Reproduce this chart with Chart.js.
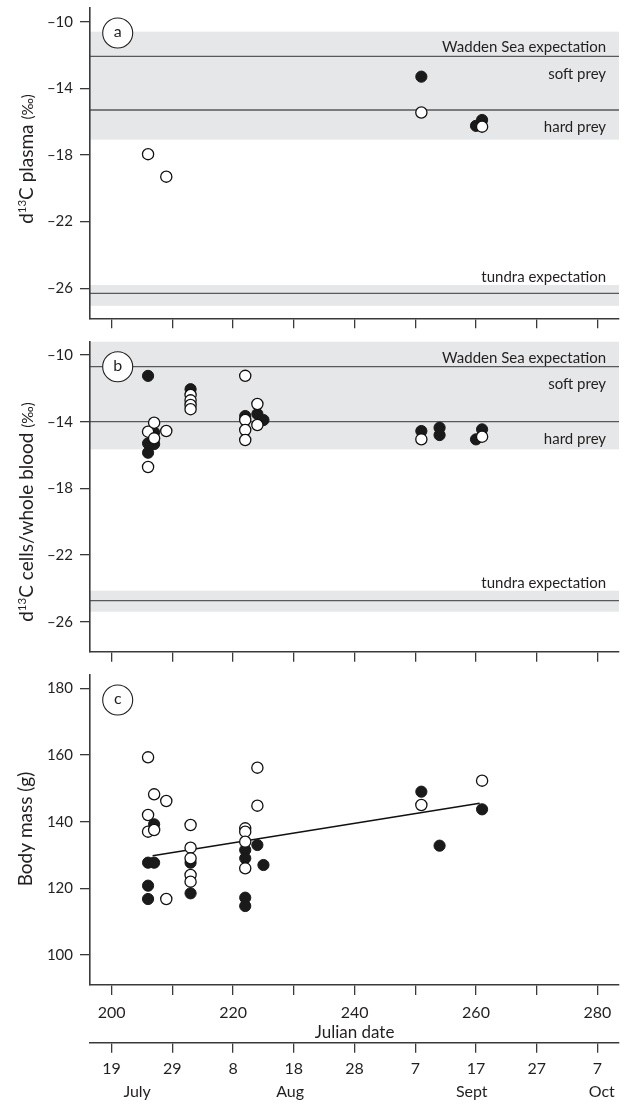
<!DOCTYPE html>
<html>
<head>
<meta charset="utf-8">
<script src="https://cdn.jsdelivr.net/npm/chart.js@4.4.0/dist/chart.umd.min.js"></script>
<style>
  body { margin: 0; background: #fff; }
  #wrap { position: relative; width: 626px; height: 1105px; }
  canvas { position: absolute; left: 0; }
</style>
</head>
<body>
<div id="wrap">
  <canvas id="grafA" width="626" height="330" style="top:0"></canvas>
  <canvas id="grafB" width="626" height="332" style="top:330px"></canvas>
  <canvas id="grafC" width="626" height="443" style="top:662px"></canvas>
</div>
<script>
// ----- shared x axis (julian date + calendar date)
const xMin = 196.44, xMax = 283.56;
const julianTicks = [200, 210, 220, 230, 240, 250, 260, 270, 280];
const julianLabels = ["200", "", "220", "", "240", "", "260", "", "280"];
const dayLabels = ["19", "29", "8", "18", "28", "7", "17", "27", "7"];
const monthPos = [204.2, 229.4, 259.3, 280.7];
const monthLabels = ["July", "Aug", "Sept", "Oct"];

// ----- panel a: d13C plasma
const isoTicks = [-10, -14, -18, -22, -26];
const isoTickLabels = ["–10", "–14", "–18", "–22", "–26"];
const plasmaFilledDay = [251, 261, 260];
const plasmaFilledVal = [-13.3, -15.9, -16.25];
const plasmaOpenDay = [206, 209, 251, 261];
const plasmaOpenVal = [-17.95, -19.3, -15.45, -16.3];
const plasmaBands = [[-10.6, -17.08], [-25.8, -27.05]];
const plasmaLines = [-12.08, -15.3, -26.3]; // wadden, soft/hard, tundra

// ----- panel b: d13C cells / whole blood
const bloodFilledDay = [206, 206, 206, 207, 207, 213, 222, 224, 225, 251, 254, 254, 261, 260];
const bloodFilledVal = [-11.25, -15.3, -15.86, -14.64, -15.34, -12.05, -13.66, -13.54, -13.9, -14.56, -14.36, -14.8, -14.46, -15.06];
const bloodOpenDay = [206, 206, 207, 207, 209, 213, 213, 213, 213, 222, 222, 222, 222, 224, 224, 251, 261];
const bloodOpenVal = [-14.6, -16.72, -14.06, -15.0, -14.56, -12.4, -12.72, -13.0, -13.25, -11.25, -13.9, -14.5, -15.1, -12.94, -14.2, -15.06, -14.9];
const bloodBands = [[-9.0, -15.66], [-24.14, -25.4]];
const bloodLines = [-10.7, -14.0, -24.74];

// ----- panel c: body mass
const massTicks = [100, 120, 140, 160, 180];
const massTickLabels = ["100", "120", "140", "160", "180"];
const massFilledDay = [206, 206, 206, 207, 207, 213, 213, 222, 222, 222, 222, 224, 225, 251, 254, 261];
const massFilledVal = [127.7, 120.8, 116.8, 139.2, 127.7, 127.7, 118.5, 131.5, 129, 117.2, 114.7, 133, 127, 149, 132.8, 143.7];
const massOpenDay = [206, 206, 206, 207, 207, 209, 209, 213, 213, 213, 213, 213, 222, 222, 222, 222, 224, 224, 251, 261];
const massOpenVal = [159.3, 142, 137, 148.2, 137.5, 146.2, 116.8, 139, 132.2, 129, 124, 122, 138, 137, 134, 126, 156.2, 144.8, 145, 152.3];
const trendDay = [206.75, 260.6];
const trendMass = [129.8, 145.5];

const FONT = "Lato, 'Open Sans', sans-serif";
const INK = "#231f20";
const AXIS = "#3a3a3a";
Chart.defaults.font.family = FONT;
Chart.defaults.color = INK;

function pts(xs, ys) {
  return xs.map((x, i) => ({ x: x, y: ys[i] }));
}

function fixTicks(values) {
  return (s) => { s.ticks = values.map((v) => ({ value: v })); };
}

function noPad(s) {
  s.paddingTop = 0; s.paddingBottom = 0; s.paddingLeft = 0; s.paddingRight = 0;
}

function openSet(data) {
  return {
    data: data, pointRadius: 5.6, pointHoverRadius: 5.6, pointBorderWidth: 1.3,
    pointBackgroundColor: "#ffffff", pointBorderColor: "#111111", showLine: false
  };
}
function filledSet(data) {
  return {
    data: data, pointRadius: 5.6, pointHoverRadius: 5.6, pointBorderWidth: 1,
    pointBackgroundColor: "#1a1a1a", pointBorderColor: "#1a1a1a", showLine: false
  };
}

function yAxis(min, max, ticks, labels) {
  return {
    type: "linear", min: min, max: max,
    afterBuildTicks: fixTicks(ticks),
    afterFit: (s) => { s.width = 90; noPad(s); },
    ticks: { callback: (v, i) => labels[i], font: { size: 15 }, padding: 7, color: INK },
    grid: { drawOnChartArea: false, drawTicks: true, tickLength: 10, color: AXIS, lineWidth: 1.3 },
    border: { display: true, color: AXIS, width: 1.6 }
  };
}

function xTicksOnly(h) {
  return {
    type: "linear", position: "bottom", min: xMin, max: xMax,
    afterBuildTicks: fixTicks(julianTicks),
    afterFit: (s) => { s.height = h; noPad(s); },
    ticks: { display: false },
    grid: { drawOnChartArea: false, drawTicks: true, tickLength: 10, color: AXIS, lineWidth: 1.3 },
    border: { display: true, color: AXIS, width: 1.6 }
  };
}

// bands, reference lines, their labels, panel letter and the y title
function panelPlugin(cfg) {
  return {
    id: "panel" + cfg.letter,
    beforeDraw(chart) {
      const { ctx, chartArea: a, scales: { y } } = chart;
      if (!cfg.bands) return;
      ctx.save();
      ctx.beginPath();
      ctx.rect(a.left, a.top, a.right - a.left, a.bottom - a.top);
      ctx.clip();
      ctx.fillStyle = "#e6e7e8";
      cfg.bands.forEach(([hi, lo]) => {
        const y1 = y.getPixelForValue(hi), y2 = y.getPixelForValue(lo);
        ctx.fillRect(a.left, y1, a.right - a.left, y2 - y1);
      });
      ctx.strokeStyle = "#58595b";
      ctx.lineWidth = 1.3;
      cfg.lines.forEach((v) => {
        const py = y.getPixelForValue(v);
        ctx.beginPath(); ctx.moveTo(a.left, py); ctx.lineTo(a.right, py); ctx.stroke();
      });
      ctx.restore();
    },
    afterDatasetsDraw(chart) {
      const { ctx, chartArea: a, scales: { y } } = chart;
      ctx.save();
      if (cfg.bands) {
        ctx.fillStyle = INK;
        ctx.font = "15px " + FONT;
        ctx.textAlign = "right";
        ctx.textBaseline = "middle";
        const rx = a.right - 13;
        const pW = y.getPixelForValue(cfg.lines[0]);
        const pM = y.getPixelForValue(cfg.lines[1]);
        const pT = y.getPixelForValue(cfg.bands[1][0]);
        ctx.fillText("Wadden Sea expectation", rx, pW - 9);
        ctx.fillText("soft prey", rx, pW + 17.5);
        ctx.fillText("hard prey", rx, pM + 17.5);
        ctx.fillText("tundra expectation", rx, pT - 7.5);
      }
      // panel letter
      const cx = a.left + 27.7, cy = a.top + 25;
      ctx.beginPath();
      ctx.arc(cx, cy, 15, 0, Math.PI * 2);
      ctx.fillStyle = "#ffffff"; ctx.fill();
      ctx.lineWidth = 1.1; ctx.strokeStyle = INK; ctx.stroke();
      ctx.fillStyle = INK;
      ctx.font = "16px " + FONT;
      ctx.textAlign = "center"; ctx.textBaseline = "middle";
      ctx.fillText(cfg.letter, cx, cy - 1);
      ctx.restore();
    },
    afterDraw(chart) {
      const ctx = chart.ctx;
      ctx.save();
      ctx.translate(cfg.titleX, cfg.titleY);
      ctx.rotate(-Math.PI / 2);
      ctx.fillStyle = INK;
      ctx.textBaseline = "alphabetic";
      let total = 0;
      cfg.title.forEach((p) => { ctx.font = p.size + "px " + FONT; p.w = ctx.measureText(p.t).width; total += p.w; });
      let x = -total / 2;
      cfg.title.forEach((p) => {
        ctx.font = p.size + "px " + FONT;
        ctx.textAlign = "left";
        ctx.fillText(p.t, x, p.rise || 0);
        x += p.w;
      });
      ctx.restore();
    }
  };
}

const baseOptions = (layoutPad, scales) => ({
  responsive: false,
  animation: false,
  events: [],
  layout: { padding: layoutPad },
  plugins: { legend: { display: false }, tooltip: { enabled: false } },
  scales: scales
});

// ---- panel a
new Chart(document.getElementById("grafA").getContext("2d"), {
  type: "scatter",
  data: { datasets: [openSet(pts(plasmaOpenDay, plasmaOpenVal)), filledSet(pts(plasmaFilledDay, plasmaFilledVal))] },
  options: baseOptions({ top: 8, right: 6.7, left: 0, bottom: 0 }, {
    x: xTicksOnly(11.7),
    y: yAxis(-27.8, -9.18, isoTicks, isoTickLabels)
  }),
  plugins: [panelPlugin({
    letter: "a", bands: plasmaBands, lines: plasmaLines, titleX: 33.3, titleY: 159,
    title: [{ t: "d", size: 19 }, { t: "13", size: 11.5, rise: -7.5 }, { t: "C plasma ", size: 19 }, { t: "(‰)", size: 15 }]
  })]
});

// ---- panel b
new Chart(document.getElementById("grafB").getContext("2d"), {
  type: "scatter",
  data: { datasets: [openSet(pts(bloodOpenDay, bloodOpenVal)), filledSet(pts(bloodFilledDay, bloodFilledVal))] },
  options: baseOptions({ top: 11.7, right: 6.7, left: 0, bottom: 0 }, {
    x: xTicksOnly(10.3),
    y: yAxis(-27.8, -9.2, isoTicks, isoTickLabels)
  }),
  plugins: [panelPlugin({
    letter: "b", bands: bloodBands, lines: bloodLines, titleX: 33.3, titleY: 512 - 330,
    title: [{ t: "d", size: 19 }, { t: "13", size: 11.5, rise: -7.5 }, { t: "C cells/whole blood ", size: 19 }, { t: "(‰)", size: 15 }]
  })]
});

// ---- panel c
new Chart(document.getElementById("grafC").getContext("2d"), {
  type: "scatter",
  data: {
    datasets: [
      openSet(pts(massOpenDay, massOpenVal)),
      filledSet(pts(massFilledDay, massFilledVal)),
      { data: pts(trendDay, trendMass), showLine: true, pointRadius: 0, borderColor: "#111111", borderWidth: 1.6, fill: false }
    ]
  },
  options: baseOptions({ top: 13, right: 6.7, left: 0, bottom: 0 }, {
    x: {
      type: "linear", position: "bottom", weight: 0, min: xMin, max: xMax,
      afterBuildTicks: fixTicks(julianTicks),
      afterFit: (s) => { s.height = 57.7; noPad(s); },
      ticks: { callback: (v, i) => julianLabels[i], autoSkip: false, maxRotation: 0, font: { size: 16 }, padding: 8, color: INK },
      grid: { drawOnChartArea: false, drawTicks: true, tickLength: 10, color: AXIS, lineWidth: 1.3 },
      border: { display: true, color: AXIS, width: 1.6 },
      title: { display: true, text: "Julian date", font: { size: 17 }, color: INK, padding: { top: 0, bottom: 0 } }
    },
    x2: {
      type: "linear", position: "bottom", weight: 1, min: xMin, max: xMax,
      afterBuildTicks: fixTicks(julianTicks),
      afterFit: (s) => { s.height = 40; noPad(s); },
      ticks: { callback: (v, i) => dayLabels[i], autoSkip: false, maxRotation: 0, font: { size: 16 }, padding: 7, color: INK },
      grid: { drawOnChartArea: false, drawTicks: true, tickLength: 10, color: AXIS, lineWidth: 1.3 },
      border: { display: true, color: AXIS, width: 1.6 }
    },
    x3: {
      type: "linear", position: "bottom", weight: 2, min: xMin, max: xMax,
      afterBuildTicks: fixTicks(monthPos),
      afterFit: (s) => { s.height = 22.3; noPad(s); },
      ticks: { callback: (v, i) => monthLabels[i], autoSkip: false, maxRotation: 0, font: { size: 16 }, padding: 0, color: INK },
      grid: { display: false, drawTicks: false, tickLength: 0 },
      border: { display: false }
    },
    y: yAxis(91, 184, massTicks, massTickLabels)
  }),
  plugins: [panelPlugin({
    letter: "c", titleX: 31.7, titleY: 829 - 662,
    title: [{ t: "Body mass (g)", size: 19 }]
  })]
});
</script>
</body>
</html>
